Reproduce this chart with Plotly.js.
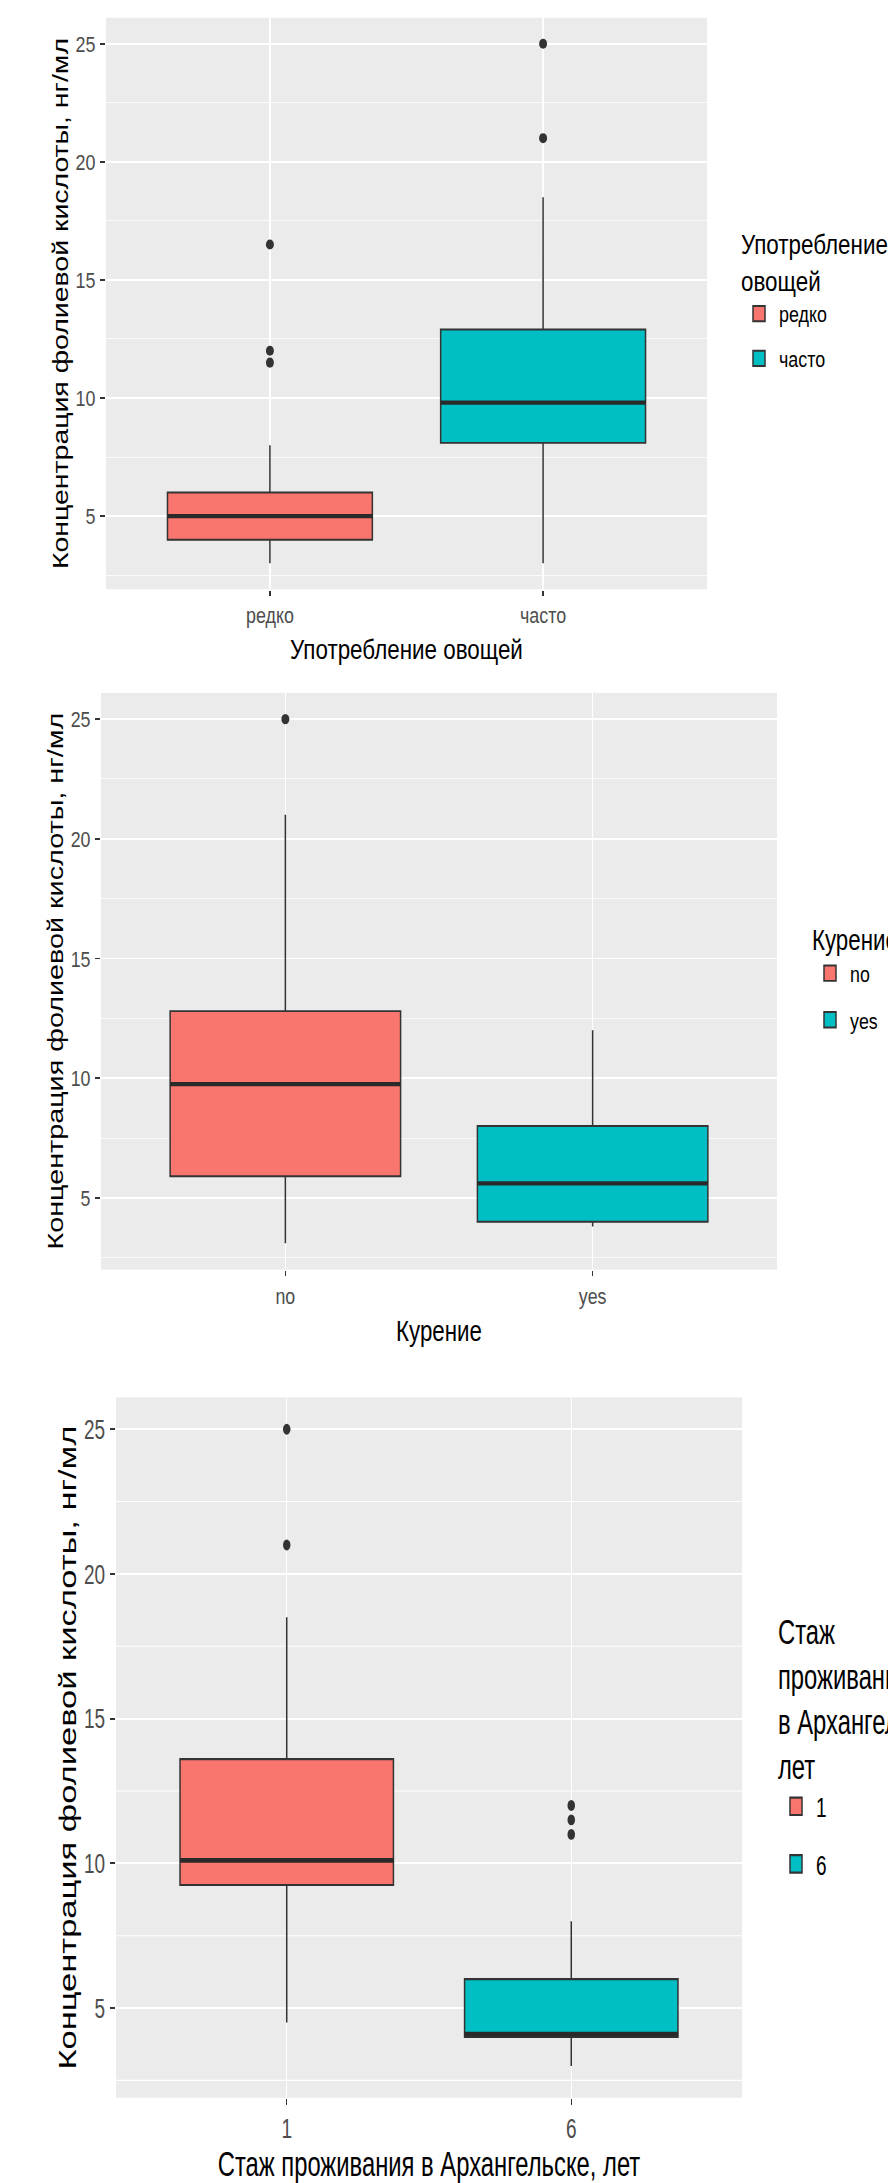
<!DOCTYPE html>
<html>
<head>
<meta charset="utf-8">
<script src="https://cdn.plot.ly/plotly-3.0.1.min.js"></script>
<style>
  html, body { margin: 0; padding: 0; background: #ffffff; overflow: hidden; width: 888px; height: 2183px; }
  .wrap { width: 888px; overflow: hidden; position: relative; }
  .plot { width: 888px; transform-origin: 0 0; }
</style>
</head>
<body>
<div class="wrap" id="w1"><div id="p1" class="plot"></div></div>
<div class="wrap" id="w2"><div id="p2" class="plot"></div></div>
<div class="wrap" id="w3"><div id="p3" class="plot"></div></div>
<script>
// ---------- data ----------
const yTitle = 'Концентрация фолиевой кислоты, нг/мл';
const yTickVals = [5, 10, 15, 20, 25];
const yMinorVals = [2.5, 7.5, 12.5, 17.5, 22.5];
const fillColors = ['#F8766D', '#00BFC4'];

// Panel 1: vegetables
const vegTitle = 'Употребление овощей';
const vegLegendTitle = 'Употребление<br>овощей';
const vegCategories = ['редко', 'часто'];
const vegLower = [3, 3];
const vegQ1 = [4, 8.1];
const vegMedian = [5, 9.8];
const vegQ3 = [6, 12.9];
const vegUpper = [8, 18.5];
const vegOutliers = [[16.5, 12, 11.5], [25, 21]];

// Panel 2: smoking
const smokeTitle = 'Курение';
const smokeLegendTitle = 'Курение';
const smokeCategories = ['no', 'yes'];
const smokeLower = [3.1, 3.8];
const smokeQ1 = [5.9, 4];
const smokeMedian = [9.75, 5.6];
const smokeQ3 = [12.8, 8];
const smokeUpper = [21, 12];
const smokeOutliers = [[25], []];

// Panel 3: years in Arkhangelsk
const stayTitle = 'Стаж проживания в Архангельске, лет';
const stayLegendTitle = 'Стаж<br>проживания<br>в Архангельске,<br>лет';
const stayCategories = ['1', '6'];
const stayLower = [4.5, 3];
const stayQ1 = [9.25, 4];
const stayMedian = [10.1, 4.1];
const stayQ3 = [13.6, 6];
const stayUpper = [18.5, 8];
const stayOutliers = [[25, 21], [12, 11.5, 11]];

// ---------- drawing ----------
const FONT = '"Liberation Sans", Arial, sans-serif';
const HALF_BOX = 0.375;

function yRange(lower, upper, outliers) {
  const all = lower.concat(upper, ...outliers);
  const lo = Math.min(...all), hi = Math.max(...all);
  const pad = (hi - lo) * 0.05;
  return [lo - pad, hi + pad];
}

// s: geometry in final (page) pixels; k: vertical stretch of the original picture
function drawPanel(id, wrapId, d, s) {
  const k = s.k;
  document.getElementById(wrapId).style.height = s.H + 'px';
  const el = document.getElementById(id);
  el.style.transform = 'scaleY(' + k + ')';

  const traces = [];
  d.cats.forEach((c, i) => {
    traces.push({
      type: 'box', x: [i + 1], name: c,
      q1: [d.q1[i]], median: [d.med[i]], q3: [d.q3[i]],
      lowerfence: [d.lower[i]], upperfence: [d.upper[i]],
      width: 2 * HALF_BOX, whiskerwidth: 0, boxpoints: false,
      fillcolor: fillColors[i], line: { color: '#333333', width: 1.5 },
      legendgroup: c, showlegend: true, hoverinfo: 'skip'
    });
  });
  d.cats.forEach((c, i) => {
    traces.push({
      type: 'scatter', mode: 'lines',
      x: [i + 1 - HALF_BOX, i + 1 + HALF_BOX], y: [d.med[i], d.med[i]],
      line: { color: '#2a2a2a', width: 3.3 }, showlegend: false, hoverinfo: 'skip'
    });
  });
  d.cats.forEach((c, i) => {
    if (d.out[i].length) {
      traces.push({
        type: 'scatter', mode: 'markers',
        x: d.out[i].map(() => i + 1), y: d.out[i],
        marker: { color: '#333333', size: s.dot }, showlegend: false, hoverinfo: 'skip'
      });
    }
  });

  const plotH = s.plotBottom - s.plotTop;
  const layout = {
    width: 888, height: s.H / k,
    margin: { l: s.left, r: 888 - s.right, t: s.plotTop / k, b: (s.H - s.plotBottom) / k, pad: 0, autoexpand: false },
    paper_bgcolor: '#ffffff', plot_bgcolor: '#EBEBEB',
    font: { family: FONT, color: '#000000' },
    boxmode: 'overlay',
    showlegend: true,
    legend: {
      x: (s.legLeft - s.left) / (s.right - s.left),
      y: (s.plotBottom - s.legTop) / plotH,
      xanchor: 'left', yanchor: 'top',
      bgcolor: 'rgba(0,0,0,0)', borderwidth: 0,
      traceorder: 'grouped', tracegroupgap: s.gap, itemwidth: 30,
      font: { family: FONT, size: s.tick, color: '#000000' },
      title: { text: d.legendTitle, font: { family: FONT, size: s.title, color: '#000000' } }
    },
    xaxis: {
      range: [0.4, 2.6], tickmode: 'array', tickvals: d.cats.map((c, i) => i + 1), ticktext: d.cats,
      showgrid: true, gridcolor: '#ffffff', gridwidth: 1.4, zeroline: false, showline: false,
      ticks: 'outside', ticklen: 4, tickwidth: 1.2, tickcolor: '#333333',
      ticklabelstandoff: s.xStand,
      tickfont: { family: FONT, size: s.tick, color: '#4D4D4D' },
      title: { text: d.xTitle, font: { family: FONT, size: s.title, color: '#000000' }, standoff: s.xTitleStand },
      fixedrange: true
    },
    yaxis: {
      range: yRange(d.lower, d.upper, d.out), tickmode: 'array', tickvals: yTickVals,
      showgrid: true, gridcolor: '#ffffff', gridwidth: 1.4, zeroline: false, showline: false,
      minor: { tickmode: 'array', tickvals: yMinorVals, showgrid: true, gridcolor: '#ffffff', gridwidth: 0.7, ticks: '' },
      ticks: 'outside', ticklen: 5, tickwidth: 1.2, tickcolor: '#333333',
      ticklabelstandoff: 1,
      tickfont: { family: FONT, size: s.tick, color: '#4D4D4D' },
      title: { text: yTitle, font: { family: FONT, size: s.title, color: '#000000' }, standoff: 0 },
      fixedrange: true
    }
  };
  Plotly.newPlot(id, traces, layout, { displayModeBar: false, staticPlot: true });
}

drawPanel('p1', 'w1',
  { cats: vegCategories, lower: vegLower, q1: vegQ1, med: vegMedian, q3: vegQ3, upper: vegUpper, out: vegOutliers, xTitle: vegTitle, legendTitle: vegLegendTitle },
  { H: 680, k: 1.27, plotTop: 18, plotBottom: 590, left: 106, right: 707, tick: 17.9, title: 22.4, dot: 8,
    xStand: 0, xTitleStand: 9, legLeft: 739, legTop: 217, gap: 9 });

drawPanel('p2', 'w2',
  { cats: smokeCategories, lower: smokeLower, q1: smokeQ1, med: smokeMedian, q3: smokeQ3, upper: smokeUpper, out: smokeOutliers, xTitle: smokeTitle, legendTitle: smokeLegendTitle },
  { H: 700, k: 1.29, plotTop: 12.5, plotBottom: 589, left: 101, right: 777, tick: 17.8, title: 22.3, dot: 8,
    xStand: 0, xTitleStand: 10, legLeft: 810, legTop: 232, gap: 10 });

drawPanel('p3', 'w3',
  { cats: stayCategories, lower: stayLower, q1: stayQ1, med: stayMedian, q3: stayQ3, upper: stayUpper, out: stayOutliers, xTitle: stayTitle, legendTitle: stayLegendTitle },
  { H: 803, k: 1.45, plotTop: 18, plotBottom: 718, left: 116, right: 742, tick: 19, title: 23.8, dot: 7.5,
    xStand: 0, xTitleStand: 11, legLeft: 776, legTop: 220, gap: 12 });
</script>
</body>
</html>
